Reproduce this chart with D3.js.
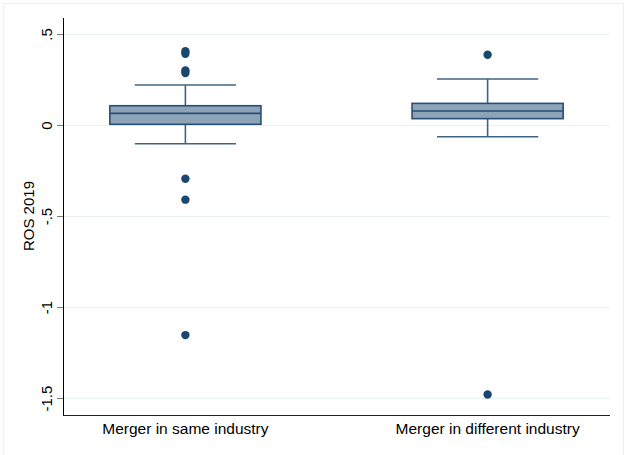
<!DOCTYPE html>
<html>
<head>
<meta charset="utf-8">
<script src="https://cdn.jsdelivr.net/npm/d3@7"></script>
<style>
  html, body { margin: 0; padding: 0; background: #fff; }
  svg { display: block; font-family: "Liberation Sans", Arial, Helvetica, sans-serif; }
</style>
</head>
<body>
<svg id="chart" width="625" height="455"></svg>
<script>
// Groups and their box-plot summaries (ROS 2019)
const categories = ["Merger in same industry", "Merger in different industry"];
const q1 = [0.004, 0.035];
const median = [0.064, 0.077];
const q3 = [0.106, 0.119];
const whiskerLow = [-0.103, -0.064];
const whiskerHigh = [0.220, 0.253];
const outliers = [
  [0.406, 0.392, 0.300, 0.286, -0.295, -0.410, -1.154],
  [0.386, -1.480]
];
const yTicks = [0.5, 0, -0.5, -1, -1.5];
const yTickLabels = [".5", "0", "-.5", "-1", "-1.5"];

const svg = d3.select("#chart");
const W = 625, H = 455;
const margin = { top: 18, right: 15, bottom: 40, left: 63 };
const plotW = W - margin.left - margin.right;
const plotH = H - margin.top - margin.bottom;

const navy = "#1a476f";

// outer graph region frame
svg.append("rect")
  .attr("x", 3.5).attr("y", 3.5)
  .attr("width", W - 5).attr("height", H)
  .attr("fill", "#fff").attr("stroke", "#e9f0f1").attr("stroke-width", 1);

const y = d3.scaleLinear().domain([-1.593, 0.588]).range([margin.top + plotH, margin.top]);
const x = d3.scaleBand().domain(categories)
  .range([margin.left, margin.left + plotW]).paddingInner(0.5).paddingOuter(0.155);

const g = svg.append("g");

// gridlines
g.selectAll("line.grid").data(yTicks).join("line")
  .attr("class", "grid")
  .attr("x1", margin.left).attr("x2", margin.left + plotW)
  .attr("y1", d => Math.round(y(d)) + 0.5).attr("y2", d => Math.round(y(d)) + 0.5)
  .attr("stroke", "#eaf2f3").attr("stroke-width", 1.2);

// y axis
const yAxis = d3.axisLeft(y).tickValues(yTicks)
  .tickFormat((d, i) => yTickLabels[i]).tickSize(6).tickPadding(4);
const ya = svg.append("g").attr("transform", `translate(${margin.left},0)`).call(yAxis);
ya.select(".domain").attr("stroke", "#000").attr("d", `M0.5,${margin.top}V${margin.top + plotH}`);
ya.selectAll(".tick line").attr("stroke", "#777");
// rotated tick labels
ya.selectAll(".tick text")
  .attr("font-size", 15).attr("fill", "#000")
  .attr("text-anchor", "middle")
  .attr("dy", null)
  .attr("transform", "rotate(-90)")
  .attr("x", 0).attr("y", -11);

// x axis
const xa = svg.append("g").attr("transform", `translate(0,${margin.top + plotH})`)
  .call(d3.axisBottom(x).tickSize(0).tickPadding(8));
xa.select(".domain").attr("stroke", "#222").attr("d", `M${margin.left},0.5H${margin.left + plotW}`);
xa.selectAll(".tick text").attr("font-size", 15.5).attr("fill", "#000");

// y title
svg.append("text")
  .attr("transform", `translate(34,${y(-0.5)}) rotate(-90)`)
  .attr("text-anchor", "middle")
  .attr("font-size", 15).attr("fill", "#000")
  .text("ROS 2019");

// boxes
const boxes = g.selectAll("g.box").data(categories).join("g").attr("class", "box");
boxes.each(function(c, i) {
  const b = d3.select(this);
  const cx = x(c) + x.bandwidth() / 2;
  const bw = x.bandwidth();
  const capW = bw * 0.67;
  // whiskers
  b.append("line").attr("x1", cx).attr("x2", cx)
    .attr("y1", y(whiskerHigh[i])).attr("y2", y(q3[i]))
    .attr("stroke", "#3f6385").attr("stroke-width", 1.6);
  b.append("line").attr("x1", cx).attr("x2", cx)
    .attr("y1", y(q1[i])).attr("y2", y(whiskerLow[i]))
    .attr("stroke", "#3f6385").attr("stroke-width", 1.6);
  [whiskerHigh[i], whiskerLow[i]].forEach(v => {
    b.append("line").attr("x1", cx - capW / 2).attr("x2", cx + capW / 2)
      .attr("y1", y(v)).attr("y2", y(v))
      .attr("stroke", "#3f6385").attr("stroke-width", 1.6);
  });
  // box
  b.append("rect")
    .attr("x", x(c)).attr("width", bw)
    .attr("y", y(q3[i])).attr("height", y(q1[i]) - y(q3[i]))
    .attr("fill", "#8da3b8").attr("stroke", "#284f74").attr("stroke-width", 1.6);
  b.append("line").attr("x1", x(c)).attr("x2", x(c) + bw)
    .attr("y1", y(median[i])).attr("y2", y(median[i]))
    .attr("stroke", "#284f74").attr("stroke-width", 1.6);
  // outliers
  b.selectAll("circle").data(outliers[i]).join("circle")
    .attr("cx", cx).attr("cy", d => y(d)).attr("r", 4.2)
    .attr("fill", navy);
});
</script>
</body>
</html>
